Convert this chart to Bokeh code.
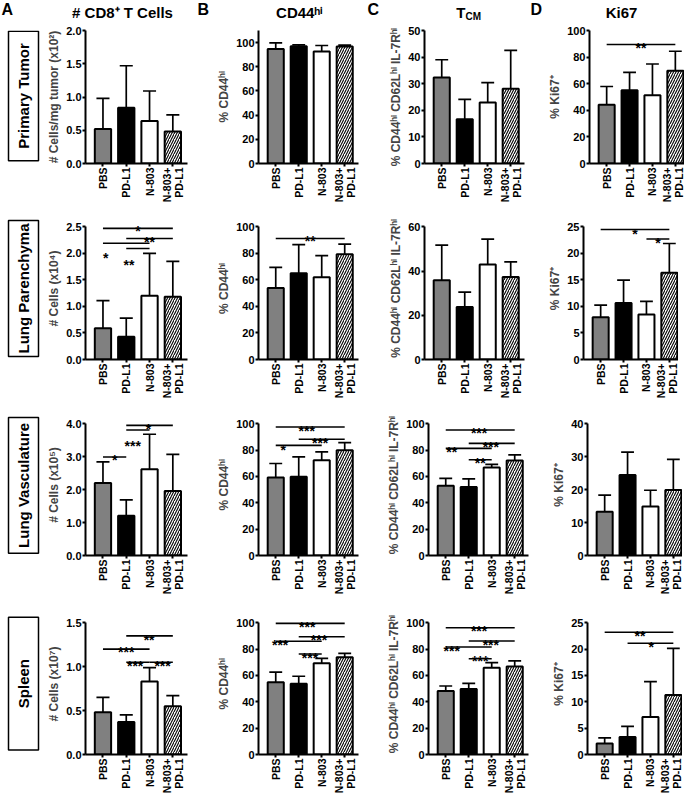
import math
from bokeh.plotting import figure
from bokeh.layouts import row, column
from bokeh.models import Range1d, FixedTicker, PrintfTickFormatter, ColumnDataSource
from bokeh.core.properties import value
from bokeh.embed import file_html
from bokeh.resources import INLINE

FONT = "Liberation Sans"

# ---------------- data ----------------
groups = ["PBS", "PD-L1", "N-803", "N-803+\nPD-L1"]
row_labels = ["Primary Tumor", "Lung Parenchyma", "Lung Vasculature", "Spleen"]
col_letters = ["A", "B", "C", "D"]
col_titles = ["# CD8\u207a T Cells", "CD44\u02b0\u2071", "T", "Ki67"]
tcm_sub = "CM"

ylab_cd8 = ["# Cells/mg tumor (x10\u00b2)", "# Cells (x10\u2074)", "# Cells (x10\u2075)", "# Cells (x10\u2077)"]
ylab_cd44 = "% CD44\u02b0\u2071"
ylab_tcm = "% CD44\u02b0\u2071 CD62L\u02b0\u2071 IL-7R\u02b0\u2071"
ylab_ki67 = "% Ki67\u207a"

# Primary tumor
pt_cd8_mean = [0.52, 0.84, 0.64, 0.48]
pt_cd8_sd = [0.46, 0.63, 0.45, 0.25]
pt_cd44_mean = [94.7, 96.9, 92.6, 96.7]
pt_cd44_sd = [5.0, 1.2, 5.0, 1.2]
pt_tcm_mean = [32.3, 16.6, 22.9, 28.1]
pt_tcm_sd = [6.7, 7.5, 7.5, 14.4]
pt_ki67_mean = [44.1, 55.1, 51.4, 69.8]
pt_ki67_sd = [13.8, 13.4, 23.4, 14.6]

# Lung parenchyma
lp_cd8_mean = [0.59, 0.43, 1.20, 1.18]
lp_cd8_sd = [0.52, 0.35, 0.80, 0.67]
lp_cd44_mean = [53.9, 64.9, 61.9, 79.4]
lp_cd44_sd = [15.5, 21.6, 16.3, 7.6]
lp_tcm_mean = [35.8, 23.7, 42.9, 37.3]
lp_tcm_sd = [15.9, 6.8, 11.5, 6.8]
lp_ki67_mean = [7.96, 10.65, 8.46, 16.35]
lp_ki67_sd = [2.3, 4.3, 2.5, 5.5]

# Lung vasculature
lv_cd8_mean = [2.20, 1.21, 2.62, 1.96]
lv_cd8_sd = [0.64, 0.48, 1.06, 1.11]
lv_cd44_mean = [59.2, 59.7, 72.3, 79.8]
lv_cd44_sd = [10.6, 15.1, 6.3, 5.8]
lv_tcm_mean = [53.0, 52.0, 66.7, 72.0]
lv_tcm_sd = [5.6, 6.1, 2.5, 4.3]
lv_ki67_mean = [13.3, 24.4, 14.9, 19.9]
lv_ki67_sd = [5.0, 7.0, 4.9, 9.3]

# Spleen
sp_cd8_mean = [0.48, 0.37, 0.83, 0.55]
sp_cd8_sd = [0.17, 0.08, 0.16, 0.12]
sp_cd44_mean = [54.9, 53.7, 69.3, 73.8]
sp_cd44_sd = [7.6, 5.7, 3.7, 3.0]
sp_tcm_mean = [48.2, 49.7, 65.9, 66.7]
sp_tcm_sd = [3.8, 4.3, 3.8, 4.3]
sp_ki67_mean = [2.08, 3.34, 7.12, 11.3]
sp_ki67_sd = [1.07, 2.0, 6.7, 8.85]

# significance: (group i, group j, bar height, stars, star x, star y)
pt_ki67_sig = [(0, 3, 89.5, "**", 1.5, 92.5)]
lp_cd8_sig = [(0, 3, 2.47, "*", 1.5, 2.58), (1, 3, 2.28, "**", 2.0, 2.37),
              (0, 2, 2.19, "*", 0.12, 2.06), (1, 2, 2.09, "**", 1.12, 1.94)]
lp_cd44_sig = [(0, 3, 91.2, "**", 1.5, 95.5)]
lp_ki67_sig = [(0, 3, 24.5, "*", 1.5, 25.2), (2, 3, 22.7, "*", 2.5, 23.4)]
lv_cd8_sig = [(0, 1, 2.99, "*", 0.5, 3.13), (1, 3, 3.95, "*", 1.95, 4.08),
              (1, 2, 3.81, "***", 1.28, 3.58)]
lv_cd44_sig = [(0, 3, 97.5, "***", 1.35, 100.8), (1, 3, 88.2, "***", 1.93, 91.4),
               (0, 2, 83.6, "*", 0.33, 86.1)]
lv_tcm_sig = [(0, 3, 95.2, "***", 1.45, 99.0), (1, 3, 85.1, "***", 1.96, 88.4),
              (0, 2, 81.3, "**", 0.26, 84.6), (1, 2, 72.7, "**", 1.5, 76.0)]
sp_cd8_sig = [(1, 3, 1.35, "**", 1.98, 1.39), (0, 2, 1.20, "***", 1.0, 1.26),
              (1, 2, 1.05, "***", 1.38, 1.096), (2, 3, 1.05, "***", 2.56, 1.096)]
sp_cd44_sig = [(0, 3, 99.5, "***", 1.37, 102.8), (1, 3, 89.4, "***", 1.88, 92.7),
               (0, 2, 85.9, "***", 0.19, 88.9), (1, 2, 76.3, "***", 1.49, 79.6)]
sp_tcm_sig = [(0, 3, 96.2, "***", 1.45, 100.0), (1, 3, 86.1, "***", 1.96, 89.4),
              (0, 2, 81.6, "***", 0.26, 84.8), (1, 2, 72.7, "***", 1.5, 76.8)]
sp_ki67_sig = [(0, 3, 23.2, "**", 1.54, 24.0), (1, 3, 21.1, "*", 2.03, 21.9)]

# axes: (max, ticks)
y_cd8 = [(2.0, [0, 0.5, 1.0, 1.5, 2.0]), (2.5, [0, 0.5, 1.0, 1.5, 2.0, 2.5]),
         (4.0, [0, 1, 2, 3, 4]), (1.5, [0, 0.5, 1.0, 1.5])]
y_cd44 = [(110, [0, 20, 40, 60, 80, 100]), (100, [0, 20, 40, 60, 80, 100]),
          (100, [0, 20, 40, 60, 80, 100]), (100, [0, 20, 40, 60, 80, 100])]
y_tcm = [(50, [0, 10, 20, 30, 40, 50]), (60, [0, 20, 40, 60]),
         (100, [0, 20, 40, 60, 80, 100]), (100, [0, 20, 40, 60, 80, 100])]
y_ki67 = [(100, [0, 20, 40, 60, 80, 100]), (25, [0, 5, 10, 15, 20, 25]),
          (40, [0, 10, 20, 30, 40]), (25, [0, 5, 10, 15, 20, 25])]

# ---------------- styles / layout ----------------
bar_colors = ["#808080", "#000000", "#ffffff", "#ffffff"]
bar_hatch = [" ", " ", " ", "/"]

FRAME_W = [102, 100, 100, 95]
MBL = [38, 38, 40, 38]
MBR = [27, 26, 21, 0]
XL = -0.75
XR = [3.63, 3.6, 3.6, 3.4]
AXIS_H = [133, 133, 132, 132]
EXT = [0.0, 0.07, 0.07, 0.07]
TOP = [6, 2, 3, 6]
BOT = [52, 52, 52, 39]
STRIP_H = [191, 196, 196, 186]
BOX = [(1, 187), (4, 192), (4, 193), (5, 184)]
LABEL_W = 44
TOTAL_W = 669
HEADER_H = 24
CAP = 0.28
BAR_W = 0.7


def make_panel(mean, sd, sig, yspec, fmt, ylabel, c, r):
    ymax, yticks = yspec
    ext = EXT[r]
    yend = ymax * (1 + ext)
    fh = round(AXIS_H[r] * (1 + ext))
    p = figure(frame_width=FRAME_W[c], frame_height=fh,
               x_range=Range1d(XL, XR[c]), y_range=Range1d(0, yend),
               min_border_left=MBL[c], min_border_right=MBR[c],
               min_border_top=TOP[r], min_border_bottom=BOT[r],
               toolbar_location=None, tools="", output_backend="svg")
    p.outline_line_color = None
    p.grid.visible = False
    xs = list(range(len(groups)))
    tops = [m + s for m, s in zip(mean, sd)]
    src = ColumnDataSource(dict(x=xs, mean=mean, top=tops,
                                left=[v - CAP for v in xs], right=[v + CAP for v in xs],
                                color=bar_colors, hatch=bar_hatch))
    p.segment(x0="x", y0="mean", x1="x", y1="top", source=src, line_color="black", line_width=1.7)
    p.segment(x0="left", y0="top", x1="right", y1="top", source=src, line_color="black", line_width=1.7)
    p.vbar(x="x", top="mean", bottom=0, width=BAR_W, source=src, fill_color="color",
           line_color="black", line_width=2, hatch_pattern="hatch", hatch_color="black",
           hatch_weight=1.1, hatch_scale=5)
    if sig:
        ssrc = ColumnDataSource(dict(x0=[s[0] for s in sig], x1=[s[1] for s in sig],
                                     y=[s[2] for s in sig], t=[s[3] for s in sig],
                                     tx=[s[4] for s in sig], ty=[s[5] for s in sig]))
        p.segment(x0="x0", y0="y", x1="x1", y1="y", source=ssrc, line_color="black", line_width=1.6)
        p.text(x="tx", y="ty", text="t", source=ssrc, text_align="center",
               text_baseline="alphabetic", y_offset=8, text_font=value(FONT),
               text_font_style="bold", text_font_size="14px", text_color="black")
    # y axis
    ya = p.yaxis[0]
    ya.ticker = FixedTicker(ticks=yticks)
    ya.formatter = PrintfTickFormatter(format=fmt)
    ya.bounds = (0, ymax)
    ya.axis_label = ylabel
    ya.axis_label_text_font = FONT
    ya.axis_label_text_font_style = "bold"
    ya.axis_label_text_font_size = "12px"
    ya.axis_label_standoff = 2
    ya.major_label_text_font_size = "11px"
    # x axis
    xa = p.xaxis[0]
    xa.ticker = FixedTicker(ticks=xs)
    xa.major_label_overrides = {i: g for i, g in enumerate(groups)}
    xa.major_label_orientation = math.pi / 2
    xa.major_label_text_font_size = "10.5px"
    xa.major_label_text_line_height = 1.0
    for a in (xa, ya):
        a.axis_line_width = 2
        a.axis_line_color = "black"
        a.major_tick_line_width = 2
        a.major_tick_line_color = "black"
        a.major_tick_out = 3
        a.major_tick_in = 0
        a.minor_tick_line_color = None
        a.major_label_standoff = 1
        a.major_label_text_font = FONT
        a.major_label_text_font_style = "bold"
        a.major_label_text_color = "black"
    return p


def make_label(r):
    h = STRIP_H[r]
    f = figure(width=LABEL_W, height=h, x_range=Range1d(0, LABEL_W), y_range=Range1d(0, h),
               x_axis_location=None, y_axis_location=None, min_border=0,
               toolbar_location=None, tools="", output_backend="svg")
    f.outline_line_color = None
    f.grid.visible = False
    t, b = BOX[r]
    f.quad(left=[8], right=[38], top=[h - t], bottom=[h - b], fill_color=None,
           line_color="black", line_width=1.5)
    f.text(x=[23], y=[h - (t + b) / 2], text=[row_labels[r]], angle=math.pi / 2,
           text_align="center", text_baseline="middle", text_font=value(FONT),
           text_font_style="bold", text_font_size="15px", text_color="black")
    return f


def make_header():
    f = figure(width=TOTAL_W, height=HEADER_H, x_range=Range1d(0, TOTAL_W), y_range=Range1d(0, HEADER_H),
               x_axis_location=None, y_axis_location=None, min_border=0,
               toolbar_location=None, tools="", output_backend="svg")
    f.outline_line_color = None
    f.grid.visible = False
    f.text(x=[1, 197, 367, 530], y=[HEADER_H] * 4, text=col_letters, text_align="left",
           text_baseline="top", text_font=value(FONT), text_font_style="bold",
           text_font_size="16px", text_color="black")
    f.text(x=[122, 299, 621], y=[HEADER_H / 2] * 3, text=[col_titles[0], col_titles[1], col_titles[3]],
           text_align="center", text_baseline="middle", text_font=value(FONT),
           text_font_style="bold", text_font_size="15px", text_color="black")
    f.text(x=[465], y=[HEADER_H / 2], text=[col_titles[2]], text_align="right", text_baseline="middle",
           text_font=value(FONT), text_font_style="bold", text_font_size="15px", text_color="black")
    f.text(x=[465], y=[HEADER_H / 2 - 4], text=[tcm_sub], text_align="left", text_baseline="middle",
           text_font=value(FONT), text_font_style="bold", text_font_size="10px", text_color="black")
    return f


rows_data = [
    [(pt_cd8_mean, pt_cd8_sd, []), (pt_cd44_mean, pt_cd44_sd, []),
     (pt_tcm_mean, pt_tcm_sd, []), (pt_ki67_mean, pt_ki67_sd, pt_ki67_sig)],
    [(lp_cd8_mean, lp_cd8_sd, lp_cd8_sig), (lp_cd44_mean, lp_cd44_sd, lp_cd44_sig),
     (lp_tcm_mean, lp_tcm_sd, []), (lp_ki67_mean, lp_ki67_sd, lp_ki67_sig)],
    [(lv_cd8_mean, lv_cd8_sd, lv_cd8_sig), (lv_cd44_mean, lv_cd44_sd, lv_cd44_sig),
     (lv_tcm_mean, lv_tcm_sd, lv_tcm_sig), (lv_ki67_mean, lv_ki67_sd, [])],
    [(sp_cd8_mean, sp_cd8_sd, sp_cd8_sig), (sp_cd44_mean, sp_cd44_sd, sp_cd44_sig),
     (sp_tcm_mean, sp_tcm_sd, sp_tcm_sig), (sp_ki67_mean, sp_ki67_sd, sp_ki67_sig)],
]
yspecs = [y_cd8, y_cd44, y_tcm, y_ki67]
fmts = ["%.1f", "%d", "%d", "%d"]

strips = []
for r in range(4):
    figs = [make_label(r)]
    for c in range(4):
        mean, sd, sig = rows_data[r][c]
        ylabel = [ylab_cd8[r], ylab_cd44, ylab_tcm, ylab_ki67][c]
        figs.append(make_panel(mean, sd, sig, yspecs[c][r], fmts[c], ylabel, c, r))
    strips.append(row(*figs))

layout = column(make_header(), *strips)

open("out.html", "w").write(file_html(layout, INLINE))
